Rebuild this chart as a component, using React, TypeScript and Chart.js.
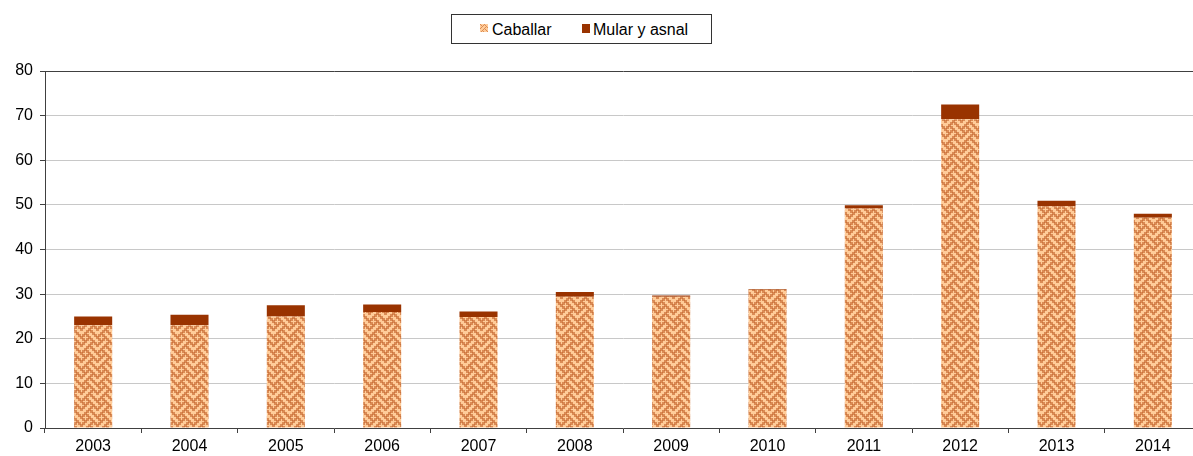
import React, { useEffect, useRef } from "react";
import { Chart, registerables } from "chart.js";

Chart.register(...registerables);

const years = ["2003", "2004", "2005", "2006", "2007", "2008", "2009", "2010", "2011", "2012", "2013", "2014"];
const caballar = [23, 23, 25, 26, 24.9, 29.4, 29.4, 31, 49.2, 69.2, 49.7, 47.1];
const mularYAsnal = [2, 2.4, 2.5, 1.7, 1.2, 1.1, 0.3, 0.15, 0.7, 3.3, 1.2, 0.9];
const yTicks = [0, 10, 20, 30, 40, 50, 60, 70, 80];

const FONT = "'Liberation Sans', Arial, sans-serif";
const BG = "#FFCC99";
const FG = "rgba(196, 98, 44, 0.62)";
const WEAVE = [0x88, 0x54, 0x22, 0x45, 0x88, 0x14, 0x22, 0x51];

function makePatternCanvas(scale: number, dot: number): HTMLCanvasElement {
  const size = 8 * scale;
  const c = document.createElement("canvas");
  c.width = size;
  c.height = size;
  const g = c.getContext("2d")!;
  g.fillStyle = BG;
  g.fillRect(0, 0, size, size);
  g.fillStyle = FG;
  for (let r = 0; r < 8; r++) {
    for (let b = 0; b < 8; b++) {
      if (WEAVE[r] & (0x80 >> b)) {
        for (const dx of [-size, 0, size]) {
          for (const dy of [-size, 0, size]) {
            g.fillRect(b * scale + dx, r * scale + dy, dot, dot);
          }
        }
      }
    }
  }
  return c;
}

export default function App() {
  const ref = useRef<HTMLCanvasElement>(null);
  const swRef = useRef<HTMLCanvasElement>(null);

  useEffect(() => {
    const canvas = ref.current!;
    const ctx = canvas.getContext("2d")!;
    const pattern = ctx.createPattern(makePatternCanvas(2, 3), "repeat")!;

    const sw = swRef.current;
    if (sw) {
      const sg = sw.getContext("2d")!;
      const sp = sg.createPattern(makePatternCanvas(1, 1), "repeat")!;
      sg.fillStyle = sp;
      sg.fillRect(0, 0, sw.width, sw.height);
    }

    const chart = new Chart(ctx, {
      type: "bar",
      data: {
        labels: years,
        datasets: [
          {
            label: "Caballar",
            data: caballar,
            backgroundColor: pattern as any,
            borderWidth: 0,
            categoryPercentage: 1,
            barPercentage: 0.395,
          },
          {
            label: "Mular y asnal",
            data: mularYAsnal,
            backgroundColor: "#993300",
            borderWidth: 0,
            categoryPercentage: 1,
            barPercentage: 0.395,
          },
        ],
      },
      options: {
        responsive: false,
        animation: false,
        devicePixelRatio: 1,
        layout: { padding: { top: 71, right: 9, left: 0, bottom: 0 } },
        plugins: { legend: { display: false }, tooltip: { enabled: false } },
        scales: {
          x: {
            stacked: true,
            grid: {
              offset: true,
              drawOnChartArea: false,
              drawTicks: true,
              tickLength: 5,
              color: "#404040",
            },
            border: { color: "#404040", width: 1 },
            ticks: { color: "#000", font: { family: FONT, size: 16 }, padding: 4 },
            afterFit: (s: any) => {
              s.height = 28;
            },
          },
          y: {
            stacked: true,
            min: 0,
            max: 80,
            afterBuildTicks: (s: any) => {
              s.ticks = yTicks.map((v) => ({ value: v }));
            },
            grid: {
              color: (c: any) => (c.tick && c.tick.value === 80 ? "#404040" : "#C8C8C8"),
              tickColor: "#404040",
              tickLength: 5,
              lineWidth: 1,
            },
            border: { color: "#404040", width: 1 },
            ticks: { color: "#000", font: { family: FONT, size: 16 }, padding: 7 },
            afterFit: (s: any) => {
              s.width = 45;
            },
          },
        },
      },
    });
    return () => chart.destroy();
  }, []);

  const textStyle: React.CSSProperties = {
    position: "absolute",
    top: 22,
    fontFamily: FONT,
    fontSize: 16,
    lineHeight: "16px",
    color: "#000",
    whiteSpace: "nowrap",
  };

  return (
    <div
      style={{
        position: "absolute",
        left: 0,
        top: 0,
        width: 1193,
        height: 456,
        overflow: "hidden",
        background: "#fff",
      }}
    >
      <canvas ref={ref} width={1210} height={456} style={{ position: "absolute", left: 0, top: 0, width: 1210, height: 456 }} />
      <div
        style={{
          position: "absolute",
          left: 451,
          top: 14,
          width: 259,
          height: 28,
          border: "1px solid #333",
          background: "#fff",
        }}
      />
      <canvas ref={swRef} width={8} height={8} style={{ position: "absolute", left: 480, top: 24, width: 8, height: 8 }} />
      <span style={{ ...textStyle, left: 492 }}>Caballar</span>
      <div style={{ position: "absolute", left: 582, top: 24, width: 8, height: 9, background: "#993300" }} />
      <span style={{ ...textStyle, left: 593 }}>Mular y asnal</span>
    </div>
  );
}
